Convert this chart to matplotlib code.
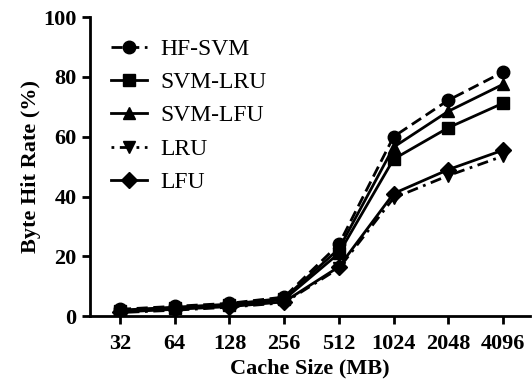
import matplotlib
matplotlib.use("Agg")
import matplotlib.pyplot as plt

cache_sizes = ["32", "64", "128", "256", "512", "1024", "2048", "4096"]
hf_svm = [2.3, 3.3, 4.3, 6.4, 24.0, 60.0, 72.2, 81.6]
svm_lru = [1.8, 2.8, 3.6, 5.6, 21.0, 52.5, 63.0, 71.2]
svm_lfu = [2.0, 3.0, 4.0, 6.0, 22.5, 56.5, 68.5, 77.5]
lru = [1.2, 2.0, 3.0, 4.5, 16.0, 39.5, 47.0, 53.5]
lfu = [1.4, 2.3, 3.2, 4.8, 16.5, 41.0, 49.0, 55.5]

plt.rcParams['font.family'] = ['Liberation Serif', 'DejaVu Serif']

fig = plt.figure(figsize=(5.32, 3.87), dpi=100)
ax = fig.add_axes([0.169, 0.183, 0.828, 0.773])

x = range(len(cache_sizes))
ax.plot(x, hf_svm, color='black', linestyle=(0, (4, 2)), marker='o', markersize=9, linewidth=2, label='HF-SVM')
ax.plot(x, svm_lru, color='black', linestyle='-', marker='s', markersize=9, linewidth=2, label='SVM-LRU')
ax.plot(x, svm_lfu, color='black', linestyle='-', marker='^', markersize=9, linewidth=2, label='SVM-LFU')
ax.plot(x, lru, color='black', linestyle=(0, (1, 2, 4, 2)), marker='v', markersize=9, linewidth=2, label='LRU')
ax.plot(x, lfu, color='black', linestyle='-', marker='D', markersize=8, linewidth=2, label='LFU')

ax.set_xlim(-0.55, 7.5)
ax.set_ylim(0, 100)
ax.set_yticks([0, 20, 40, 60, 80, 100])
ax.set_xticks(list(x))
ax.set_xticklabels(cache_sizes)

for side in ['top', 'right']:
    ax.spines[side].set_visible(False)
for side in ['left', 'bottom']:
    ax.spines[side].set_linewidth(2)
ax.tick_params(direction='out', width=2, length=6, labelsize=16)
ax.tick_params(axis='x', pad=7)
for lbl in ax.get_xticklabels() + ax.get_yticklabels():
    lbl.set_fontweight('bold')

ax.set_xlabel('Cache Size (MB)', fontsize=16, fontweight='bold', labelpad=3)
ax.set_ylabel('Byte Hit Rate (%)', fontsize=16, fontweight='bold', labelpad=2)

ax.legend(loc='upper left', bbox_to_anchor=(0.0, 1.0), frameon=False, fontsize=17,
          handlelength=1.5, handletextpad=0.6, labelspacing=0.5)

fig.savefig('out.png', dpi=100)
